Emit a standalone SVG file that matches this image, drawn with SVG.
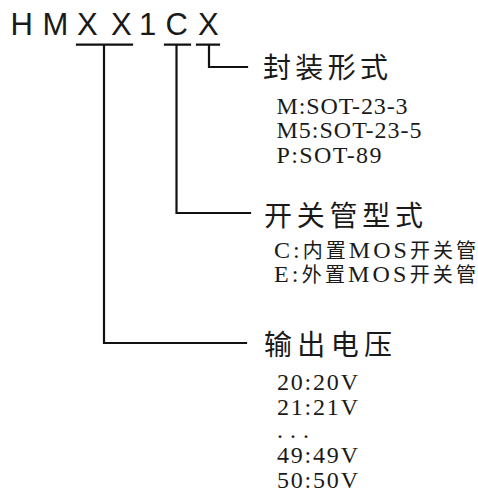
<svg xmlns="http://www.w3.org/2000/svg" width="478" height="493" viewBox="0 0 478 493">
<style>
.code{font-family:"Liberation Sans",Arial,sans-serif;font-size:31px;fill:#1a1a1a}
.head{font-family:"Liberation Serif","Noto Sans CJK SC",serif;font-size:28px;fill:#1a1a1a}
.item{font-family:"Liberation Serif","Noto Sans CJK SC",serif;font-size:24px;fill:#1a1a1a}
.cjk{font-family:"Noto Sans CJK SC",sans-serif;font-size:20px}
.conn{fill:none;stroke:#111;stroke-width:2.2;stroke-linecap:square;stroke-linejoin:miter}
</style>
<rect width="478" height="493" fill="#fff"/>
<g id="code">
<text class="code" x="10.5 42.5 77 111 139 165.5 198" y="35">HMXX1CX</text>
</g>
<g id="connectors">
<path class="conn" d="M77 44.7H132M104 44.7V343H246"/>
<path class="conn" d="M165 44.7H190M176.5 44.7V213H250"/>
<path class="conn" d="M197 44.7H219M209 44.7V67H247"/>
</g>
<g id="package">
<text class="head" x="263" y="78" textLength="125" lengthAdjust="spacing">封装形式</text>
<text class="item" x="276.5" y="114" textLength="131" lengthAdjust="spacing">M:SOT-23-3</text>
<text class="item" x="276.5" y="138" textLength="145" lengthAdjust="spacing">M5:SOT-23-5</text>
<text class="item" x="276.5" y="163" textLength="105" lengthAdjust="spacing">P:SOT-89</text>
</g>
<g id="switch">
<text class="head" x="264" y="226" textLength="159" lengthAdjust="spacing">开关管型式</text>
<text class="item" x="274" y="258" textLength="202" lengthAdjust="spacing">C:<tspan class="cjk">内置</tspan>MOS<tspan class="cjk">开关管</tspan></text>
<text class="item" x="274" y="282" textLength="202" lengthAdjust="spacing">E:<tspan class="cjk">外置</tspan>MOS<tspan class="cjk">开关管</tspan></text>
</g>
<g id="voltage">
<text class="head" x="264" y="355" textLength="128" lengthAdjust="spacing">输出电压</text>
<text class="item" x="277" y="390" textLength="81" lengthAdjust="spacing">20:20V</text>
<text class="item" x="277" y="415" textLength="81" lengthAdjust="spacing">21:21V</text>
<text class="item" x="277" y="438" textLength="32" lengthAdjust="spacing">...</text>
<text class="item" x="277" y="463" textLength="81" lengthAdjust="spacing">49:49V</text>
<text class="item" x="277" y="488" textLength="81" lengthAdjust="spacing">50:50V</text>
</g>
</svg>
